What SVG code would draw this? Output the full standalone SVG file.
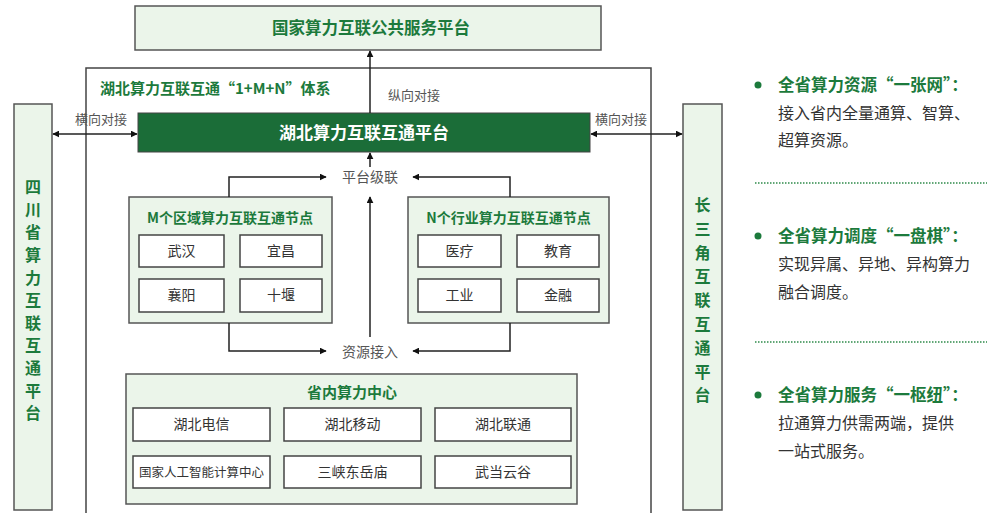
<svg xmlns="http://www.w3.org/2000/svg" width="987" height="513" viewBox="0 0 987 513">
<defs>
<marker id="ah" viewBox="0 0 10 10" refX="9" refY="5" markerWidth="7" markerHeight="7" orient="auto-start-reverse" markerUnits="userSpaceOnUse">
<path d="M0,0 L10,5 L0,10 z" fill="#111"/>
</marker>
<style>
text{font-family:"Noto Sans CJK SC","Noto Sans",sans-serif;}
.lf{fill:#ebf5ea;stroke:#555;stroke-width:1.5;}
.wb{fill:#fff;stroke:#444;stroke-width:1.5;}
.gt{fill:#1c7a3c;font-weight:bold;}
.bt{fill:#333;font-size:14px;}
.lb{fill:#555;font-size:13px;}
.ln{fill:none;stroke:#222;stroke-width:1.5;}
.ar{fill:none;stroke:#222;stroke-width:1.5;marker-end:url(#ah);}
.ar2{fill:none;stroke:#222;stroke-width:1.5;marker-end:url(#ah);marker-start:url(#ah);}
.dt{stroke:#2e8b4a;stroke-width:1.5;stroke-dasharray:1.5 1.5;}
.rt{fill:#333;font-size:16px;}
.rg{fill:#1c7a3c;font-size:16.5px;font-weight:bold;}
</style>
</defs>
<rect width="987" height="513" fill="#fff"/>

<g id="national">
<rect class="lf" x="135" y="6" width="466" height="44"/>
<text class="gt" x="371" y="34" font-size="16.5" text-anchor="middle">国家算力互联公共服务平台</text>
</g>

<g id="system">
<rect x="86" y="68" width="565" height="460" fill="none" stroke="#444" stroke-width="1.5"/>
<text class="gt" x="100" y="94" font-size="15">湖北算力互联互通“1+M+N”体系</text>
</g>

<g id="hubei-platform">
<rect x="138" y="113" width="452" height="39" fill="#1b6d38" stroke="#444" stroke-width="1"/>
<text x="364" y="139" font-size="17" font-weight="bold" fill="#fff" text-anchor="middle">湖北算力互联互通平台</text>
</g>

<g id="sichuan">
<rect class="lf" x="14" y="104" width="38" height="406"/>
<text class="gt" font-size="16" text-anchor="middle">
<tspan x="33" y="193">四</tspan><tspan x="33" y="216">川</tspan><tspan x="33" y="238">省</tspan><tspan x="33" y="261">算</tspan><tspan x="33" y="284">力</tspan><tspan x="33" y="306">互</tspan><tspan x="33" y="329">联</tspan><tspan x="33" y="351">互</tspan><tspan x="33" y="374">通</tspan><tspan x="33" y="397">平</tspan><tspan x="33" y="419">台</tspan>
</text>
</g>

<g id="yangtze">
<rect class="lf" x="683" y="104" width="39" height="406"/>
<text class="gt" font-size="16" text-anchor="middle">
<tspan x="702.5" y="211">长</tspan><tspan x="702.5" y="235">三</tspan><tspan x="702.5" y="259">角</tspan><tspan x="702.5" y="282">互</tspan><tspan x="702.5" y="306">联</tspan><tspan x="702.5" y="330">互</tspan><tspan x="702.5" y="354">通</tspan><tspan x="702.5" y="378">平</tspan><tspan x="702.5" y="401">台</tspan>
</text>
</g>

<g id="m-nodes">
<rect class="lf" x="129" y="197" width="203" height="126"/>
<text class="gt" x="230" y="223" font-size="14" text-anchor="middle">M个区域算力互联互通节点</text>
<rect class="wb" x="139" y="235" width="85" height="32"/><text class="bt" x="181.5" y="256" text-anchor="middle">武汉</text>
<rect class="wb" x="240" y="235" width="82" height="32"/><text class="bt" x="281" y="256" text-anchor="middle">宜昌</text>
<rect class="wb" x="139" y="279" width="85" height="33"/><text class="bt" x="181.5" y="300" text-anchor="middle">襄阳</text>
<rect class="wb" x="240" y="279" width="82" height="33"/><text class="bt" x="281" y="300" text-anchor="middle">十堰</text>
</g>

<g id="n-nodes">
<rect class="lf" x="408" y="197" width="201" height="126"/>
<text class="gt" x="508.5" y="223" font-size="14" text-anchor="middle">N个行业算力互联互通节点</text>
<rect class="wb" x="418" y="235" width="83" height="32"/><text class="bt" x="459.5" y="256" text-anchor="middle">医疗</text>
<rect class="wb" x="517" y="235" width="82" height="32"/><text class="bt" x="558" y="256" text-anchor="middle">教育</text>
<rect class="wb" x="418" y="279" width="83" height="33"/><text class="bt" x="459.5" y="300" text-anchor="middle">工业</text>
<rect class="wb" x="517" y="279" width="82" height="33"/><text class="bt" x="558" y="300" text-anchor="middle">金融</text>
</g>

<g id="centers">
<rect class="lf" x="126" y="374" width="451" height="130"/>
<text class="gt" x="352" y="398" font-size="15" text-anchor="middle">省内算力中心</text>
<rect class="wb" x="133" y="408" width="137" height="33"/><text class="bt" x="201.5" y="429" text-anchor="middle">湖北电信</text>
<rect class="wb" x="284" y="408" width="137" height="33"/><text class="bt" x="352.5" y="429" text-anchor="middle">湖北移动</text>
<rect class="wb" x="435" y="408" width="136" height="33"/><text class="bt" x="503" y="429" text-anchor="middle">湖北联通</text>
<rect class="wb" x="133" y="456" width="137" height="32"/><text class="bt" x="201.5" y="477" style="font-size:12.5px" text-anchor="middle">国家人工智能计算中心</text>
<rect class="wb" x="284" y="456" width="137" height="32"/><text class="bt" x="352.5" y="477" text-anchor="middle">三峡东岳庙</text>
<rect class="wb" x="435" y="456" width="136" height="32"/><text class="bt" x="503" y="477" text-anchor="middle">武当云谷</text>
</g>

<g id="connectors">
<line class="ar" x1="370" y1="113" x2="370" y2="51"/>
<text class="lb" x="388" y="100">纵向对接</text>
<line class="ar2" x1="53" y1="134" x2="137" y2="134"/>
<text class="lb" x="75" y="124">横向对接</text>
<line class="ar2" x1="591" y1="134" x2="682" y2="134"/>
<text class="lb" x="595" y="124">横向对接</text>
<line class="ar" x1="370" y1="167" x2="370" y2="153"/>
<text class="lb" x="370" y="182" style="font-size:14px" text-anchor="middle">平台级联</text>
<line class="ar" x1="370" y1="337" x2="370" y2="197"/>
<text class="lb" x="370" y="357" style="font-size:14px" text-anchor="middle">资源接入</text>
<polyline class="ar" points="229,197 229,177 326,177"/>
<polyline class="ar" points="229,323 229,351 326,351"/>
<polyline class="ar" points="510,197 510,177 413,177"/>
<polyline class="ar" points="510,323 510,351 413,351"/>
</g>

<g id="notes">
<circle cx="758" cy="85" r="3.5" fill="#1c7a3c"/>
<text class="rg" x="778" y="91">全省算力资源“一张网”：</text>
<text class="rt" x="778" y="119">接入省内全量通算、智算、</text>
<text class="rt" x="778" y="146">超算资源。</text>
<line class="dt" x1="755" y1="183" x2="987" y2="183"/>
<circle cx="758" cy="236" r="3.5" fill="#1c7a3c"/>
<text class="rg" x="778" y="242">全省算力调度“一盘棋”：</text>
<text class="rt" x="778" y="270">实现异属、异地、异构算力</text>
<text class="rt" x="778" y="298">融合调度。</text>
<line class="dt" x1="755" y1="342" x2="987" y2="342"/>
<circle cx="758" cy="395" r="3.5" fill="#1c7a3c"/>
<text class="rg" x="778" y="401">全省算力服务“一枢纽”：</text>
<text class="rt" x="778" y="429">拉通算力供需两端，提供</text>
<text class="rt" x="778" y="457">一站式服务。</text>
</g>
</svg>
